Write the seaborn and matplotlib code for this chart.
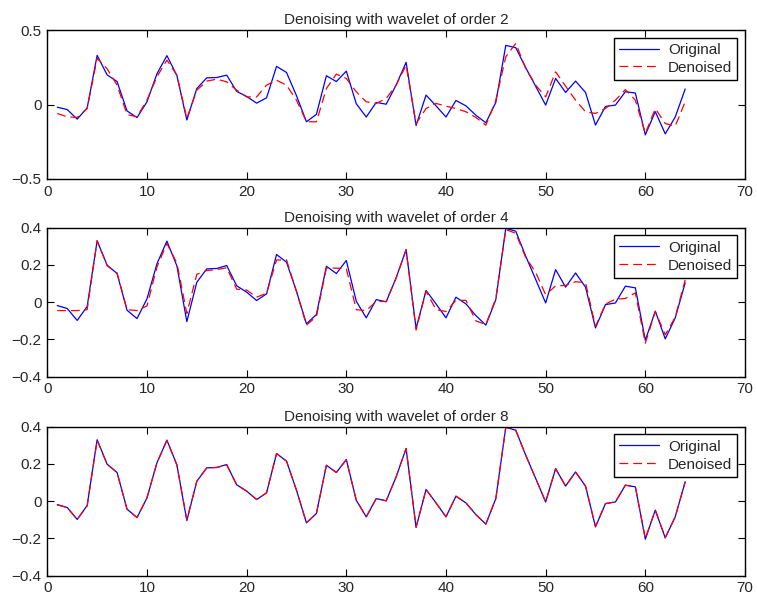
import numpy as np
import pandas as pd
import matplotlib
matplotlib.use("Agg")
import matplotlib.pyplot as plt
import seaborn as sns

sns.set_style("ticks")
plt.rcParams['font.family'] = ['Liberation Sans', 'DejaVu Sans']

orders = [2, 4, 8]
xs = list(range(1, 65))

original = [-0.018, -0.034, -0.098, -0.023, 0.33, 0.199, 0.154, -0.043, -0.088, 0.018,
            0.206, 0.328, 0.195, -0.104, 0.107, 0.179, 0.181, 0.197, 0.088, 0.054,
            0.009, 0.045, 0.256, 0.215, 0.059, -0.116, -0.066, 0.193, 0.154, 0.224,
            0.005, -0.084, 0.014, 0.002, 0.131, 0.283, -0.141, 0.063, -0.009, -0.084,
            0.027, -0.009, -0.072, -0.123, 0.014, 0.397, 0.381, 0.247, 0.122, -0.004,
            0.175, 0.081, 0.157, 0.081, -0.138, -0.013, -0.004, 0.086, 0.077, -0.204,
            -0.048, -0.197, -0.084, 0.104]

denoised2 = [-0.06, -0.083, -0.087, -0.027, 0.31, 0.24, 0.13, -0.067, -0.083, 0.03,
             0.186, 0.298, 0.197, -0.094, 0.096, 0.157, 0.17, 0.152, 0.096, 0.051,
             0.051, 0.13, 0.163, 0.13, 0.029, -0.116, -0.116, 0.107, 0.204, 0.175,
             0.085, 0.018, 0.007, 0.04, 0.13, 0.264, -0.128, -0.027, 0.007, -0.011,
             -0.027, -0.049, -0.087, -0.139, 0.029, 0.32, 0.41, 0.242, 0.13, 0.051,
             0.219, 0.123, 0.029, -0.049, -0.06, -0.027, 0.029, 0.1, 0.029, -0.195,
             -0.027, -0.128, -0.145, 0.018]

denoised4 = [-0.045, -0.045, -0.045, -0.04, 0.33, 0.196, 0.157, -0.04, -0.045, -0.02,
             0.19, 0.315, 0.21, -0.06, 0.15, 0.17, 0.175, 0.185, 0.07, 0.065,
             0.027, 0.048, 0.227, 0.227, 0.057, -0.123, -0.077, 0.183, 0.183, 0.18,
             -0.04, -0.045, 0.004, 0.004, 0.13, 0.28, -0.15, 0.06, -0.04, -0.05,
             0.01, 0.01, -0.1, -0.12, 0.02, 0.39, 0.37, 0.24, 0.16, 0.04,
             0.088, 0.09, 0.11, 0.105, -0.13, -0.01, 0.016, 0.02, 0.05, -0.22,
             -0.05, -0.175, -0.08, 0.12]

denoised8 = [-0.02, -0.034, -0.098, -0.025, 0.328, 0.199, 0.154, -0.043, -0.088, 0.018,
             0.206, 0.326, 0.195, -0.1, 0.107, 0.179, 0.181, 0.195, 0.088, 0.054,
             0.009, 0.045, 0.256, 0.215, 0.059, -0.116, -0.066, 0.193, 0.154, 0.222,
             0.005, -0.084, 0.014, 0.002, 0.131, 0.283, -0.138, 0.063, -0.009, -0.084,
             0.027, -0.009, -0.072, -0.123, 0.014, 0.397, 0.381, 0.247, 0.122, -0.004,
             0.175, 0.081, 0.157, 0.081, -0.136, -0.013, -0.004, 0.086, 0.077, -0.2,
             -0.048, -0.195, -0.084, 0.104]

denoised_all = [denoised2, denoised4, denoised8]
ylims = [(-0.5, 0.5), (-0.4, 0.4), (-0.4, 0.4)]
yticks = [[-0.5, 0, 0.5], [-0.4, -0.2, 0, 0.2, 0.4], [-0.4, -0.2, 0, 0.2, 0.4]]
yticklabels = [["\u22120.5", "0", "0.5"],
               ["\u22120.4", "\u22120.2", "0", "0.2", "0.4"],
               ["\u22120.4", "\u22120.2", "0", "0.2", "0.4"]]
xticks = [0, 10, 20, 30, 40, 50, 60, 70]

fig = plt.figure(figsize=(7.57, 6.03), dpi=100)
W, H = 757.0, 603.0
left = 47.3 / W
width = (745.0 - 47.3) / W
tops = [30.0, 227.7, 426.7]
bottoms = [179.0, 376.7, 575.7]

fs = 11
for i, order in enumerate(orders):
    ax = fig.add_axes([left, 1 - bottoms[i] / H, width, (bottoms[i] - tops[i]) / H])
    df = pd.DataFrame({"x": xs, "Original": original, "Denoised": denoised_all[i]})
    sns.lineplot(data=df, x="x", y="Original", ax=ax, color=(0, 0, 1), lw=0.9,
                 label="Original")
    sns.lineplot(data=df, x="x", y="Denoised", ax=ax, color=(1, 0, 0), lw=0.9,
                 label="Denoised", linestyle=(0, (7, 4)))
    ax.set_xlim(0, 70)
    ax.set_ylim(*ylims[i])
    ax.set_xticks(xticks)
    ax.set_xticklabels([str(t) for t in xticks], fontsize=fs)
    ax.set_yticks(yticks[i])
    ax.set_yticklabels(yticklabels[i], fontsize=fs)
    ax.set_xlabel("")
    ax.set_ylabel("")
    ax.set_title(f"Denoising with wavelet of order {order}", fontsize=fs, pad=4)
    ax.tick_params(direction="in", top=True, right=True, length=5, width=0.8,
                   pad=4, color="black")
    for sp in ax.spines.values():
        sp.set_visible(True)
        sp.set_color("black")
        sp.set_linewidth(1.0)
    leg = ax.legend(loc="upper right", fontsize=fs, frameon=True, fancybox=False,
                    edgecolor="black", framealpha=1, handlelength=2.6,
                    borderpad=0.35, labelspacing=0.25, handletextpad=0.6,
                    borderaxespad=0.5)
    leg.get_frame().set_linewidth(1.0)

fig.savefig("out.png", dpi=100)
